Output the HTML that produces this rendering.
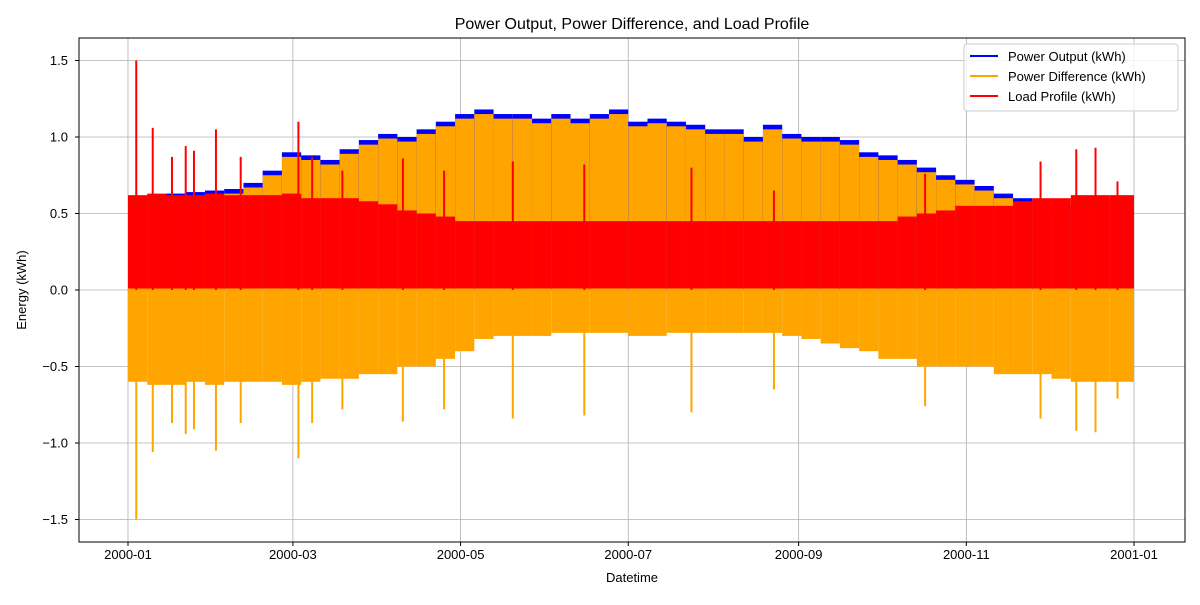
<!DOCTYPE html>
<html><head><meta charset="utf-8"><style>
body{margin:0;background:#fff;font-family:"Liberation Sans","DejaVu Sans",sans-serif}
svg text{font-family:"Liberation Sans","DejaVu Sans",sans-serif;fill:#000}
</style></head><body>
<svg id="chart" width="1200" height="600" xmlns="http://www.w3.org/2000/svg">
<rect width="1200" height="600" fill="#fff"/>
<g id="grid"></g><g id="marks"></g><g id="axes"></g>
<text x="632" y="29" text-anchor="middle" font-size="16">Power Output, Power Difference, and Load Profile</text>
<text x="632" y="582" text-anchor="middle" font-size="13">Datetime</text>
<text x="26" y="290" text-anchor="middle" font-size="13" transform="rotate(-90 26 290)">Energy (kWh)</text>
<g>
<rect x="964" y="44" width="214" height="67" fill="#fff" fill-opacity="0.8" stroke="#ccc" rx="3"/>
<g><line x1="970" y1="56" x2="998" y2="56" stroke="#0000ff" stroke-width="2"/><text x="1008" y="61" font-size="13">Power Output (kWh)</text></g>
<g><line x1="970" y1="76" x2="998" y2="76" stroke="#ffa500" stroke-width="2"/><text x="1008" y="81" font-size="13">Power Difference (kWh)</text></g>
<g><line x1="970" y1="96" x2="998" y2="96" stroke="#ff0000" stroke-width="2"/><text x="1008" y="101" font-size="13">Load Profile (kWh)</text></g>
</g>
</svg>
<script>
const weekStarts = Array.from({length:53},(_, i)=>i*7);
const powerMax = [0.6,0.62,0.63,0.64,0.65,0.66,0.7,0.78,0.9,0.88,0.85,0.92,0.98,1.02,1.0,1.05,1.1,1.15,1.18,1.15,1.15,1.12,1.15,1.12,1.15,1.18,1.1,1.12,1.1,1.08,1.05,1.05,1.0,1.08,1.02,1.0,1.0,0.98,0.9,0.88,0.85,0.8,0.75,0.72,0.68,0.63,0.6,0.57,0.55,0.55,0.57,0.6,0.6];
const loadMax = [0.62,0.63,0.62,0.62,0.63,0.62,0.62,0.62,0.63,0.6,0.6,0.6,0.58,0.56,0.52,0.5,0.48,0.45,0.45,0.45,0.45,0.45,0.45,0.45,0.45,0.45,0.45,0.45,0.45,0.45,0.45,0.45,0.45,0.45,0.45,0.45,0.45,0.45,0.45,0.45,0.48,0.5,0.52,0.55,0.55,0.55,0.58,0.6,0.6,0.62,0.62,0.62,0.62];
const diffMin = [-0.6,-0.62,-0.62,-0.6,-0.62,-0.6,-0.6,-0.6,-0.62,-0.6,-0.58,-0.58,-0.55,-0.55,-0.5,-0.5,-0.45,-0.4,-0.32,-0.3,-0.3,-0.3,-0.28,-0.28,-0.28,-0.28,-0.3,-0.3,-0.28,-0.28,-0.28,-0.28,-0.28,-0.28,-0.3,-0.32,-0.35,-0.38,-0.4,-0.45,-0.45,-0.5,-0.5,-0.5,-0.5,-0.55,-0.55,-0.55,-0.58,-0.6,-0.6,-0.6,-0.6];
const spikeDays = [3,9,16,21,24,32,41,62,67,78,100,115,140,166,205,235,290,332,345,352,360];
const spikeValues = [1.5,1.06,0.87,0.94,0.91,1.05,0.87,1.1,0.87,0.78,0.86,0.78,0.84,0.82,0.8,0.65,0.76,0.84,0.92,0.93,0.71];
const yTicks = [-1.5,-1.0,-0.5,0.0,0.5,1.0,1.5];
const xTickLabels = ['2000-01','2000-03','2000-05','2000-07','2000-09','2000-11','2001-01'];
const xTickDays = [0,60,121,182,244,305,366];

const X0=128, X1=1134, Y0=290, K=153;
const xs = d => X0 + d*(X1-X0)/366;
const ys = v => Y0 - v*K;
const NS='http://www.w3.org/2000/svg';
function mk(parent,tag,attrs){const e=document.createElementNS(NS,tag);for(const k in attrs)e.setAttribute(k,attrs[k]);parent.appendChild(e);return e;}
const grid=document.getElementById('grid'), marks=document.getElementById('marks'), axes=document.getElementById('axes');

yTicks.forEach(v=>{
  const g=mk(grid,'line',{x1:79,x2:1185,y1:ys(v),y2:ys(v),stroke:'#b0b0b0','stroke-width':0.8});
  
  
  const t=mk(axes,'text',{x:68,y:ys(v)+4.5,'text-anchor':'end','font-size':13});
  t.textContent=v.toFixed(1).replace('-','\u2212');
  
  
  mk(axes,'line',{x1:75,x2:79,y1:ys(v),y2:ys(v),stroke:'#000'});
});
xTickDays.forEach((d,i)=>{
  const g=mk(grid,'line',{x1:xs(d),x2:xs(d),y1:38,y2:542,stroke:'#b0b0b0','stroke-width':0.8});
  
  
  const t=mk(axes,'text',{x:xs(d),y:559,'text-anchor':'middle','font-size':13});
  t.textContent=xTickLabels[i];
  
  
  mk(axes,'line',{x1:xs(d),x2:xs(d),y1:542,y2:546,stroke:'#000'});
});
mk(axes,'rect',{x:79,y:38,width:1106,height:504,fill:'none',stroke:'#000','stroke-width':1});

weekStarts.forEach((d,i)=>{
  const x=xs(d), w=Math.min(xs(Math.min(d+7,366))-x, X1-x);
  if(w<=0) return;
  const b=mk(marks,'rect',{x:x,y:ys(powerMax[i]),width:w,height:ys(0)-ys(powerMax[i]),fill:'#0000ff'});
  
  
  const o=mk(marks,'rect',{x:x,y:ys(powerMax[i]-0.03),width:w,height:ys(diffMin[i])-ys(powerMax[i]-0.03),fill:'#ffa500'});
  
  
});
weekStarts.forEach((d,i)=>{
  const x=xs(d), w=Math.min(xs(Math.min(d+7,366))-x, X1-x);
  if(w<=0) return;
  const r=mk(marks,'rect',{x:x,y:ys(loadMax[i]),width:w,height:ys(0.01)-ys(loadMax[i]),fill:'#ff0000'});
  
  
});
spikeDays.forEach((d,i)=>{
  const o=mk(marks,'line',{x1:xs(d),x2:xs(d),y1:ys(0),y2:ys(-spikeValues[i]),stroke:'#ffa500','stroke-width':2});
  
  
  const r=mk(marks,'line',{x1:xs(d),x2:xs(d),y1:ys(0),y2:ys(spikeValues[i]),stroke:'#ff0000','stroke-width':2});
  
  
});
</script>
</body></html>
